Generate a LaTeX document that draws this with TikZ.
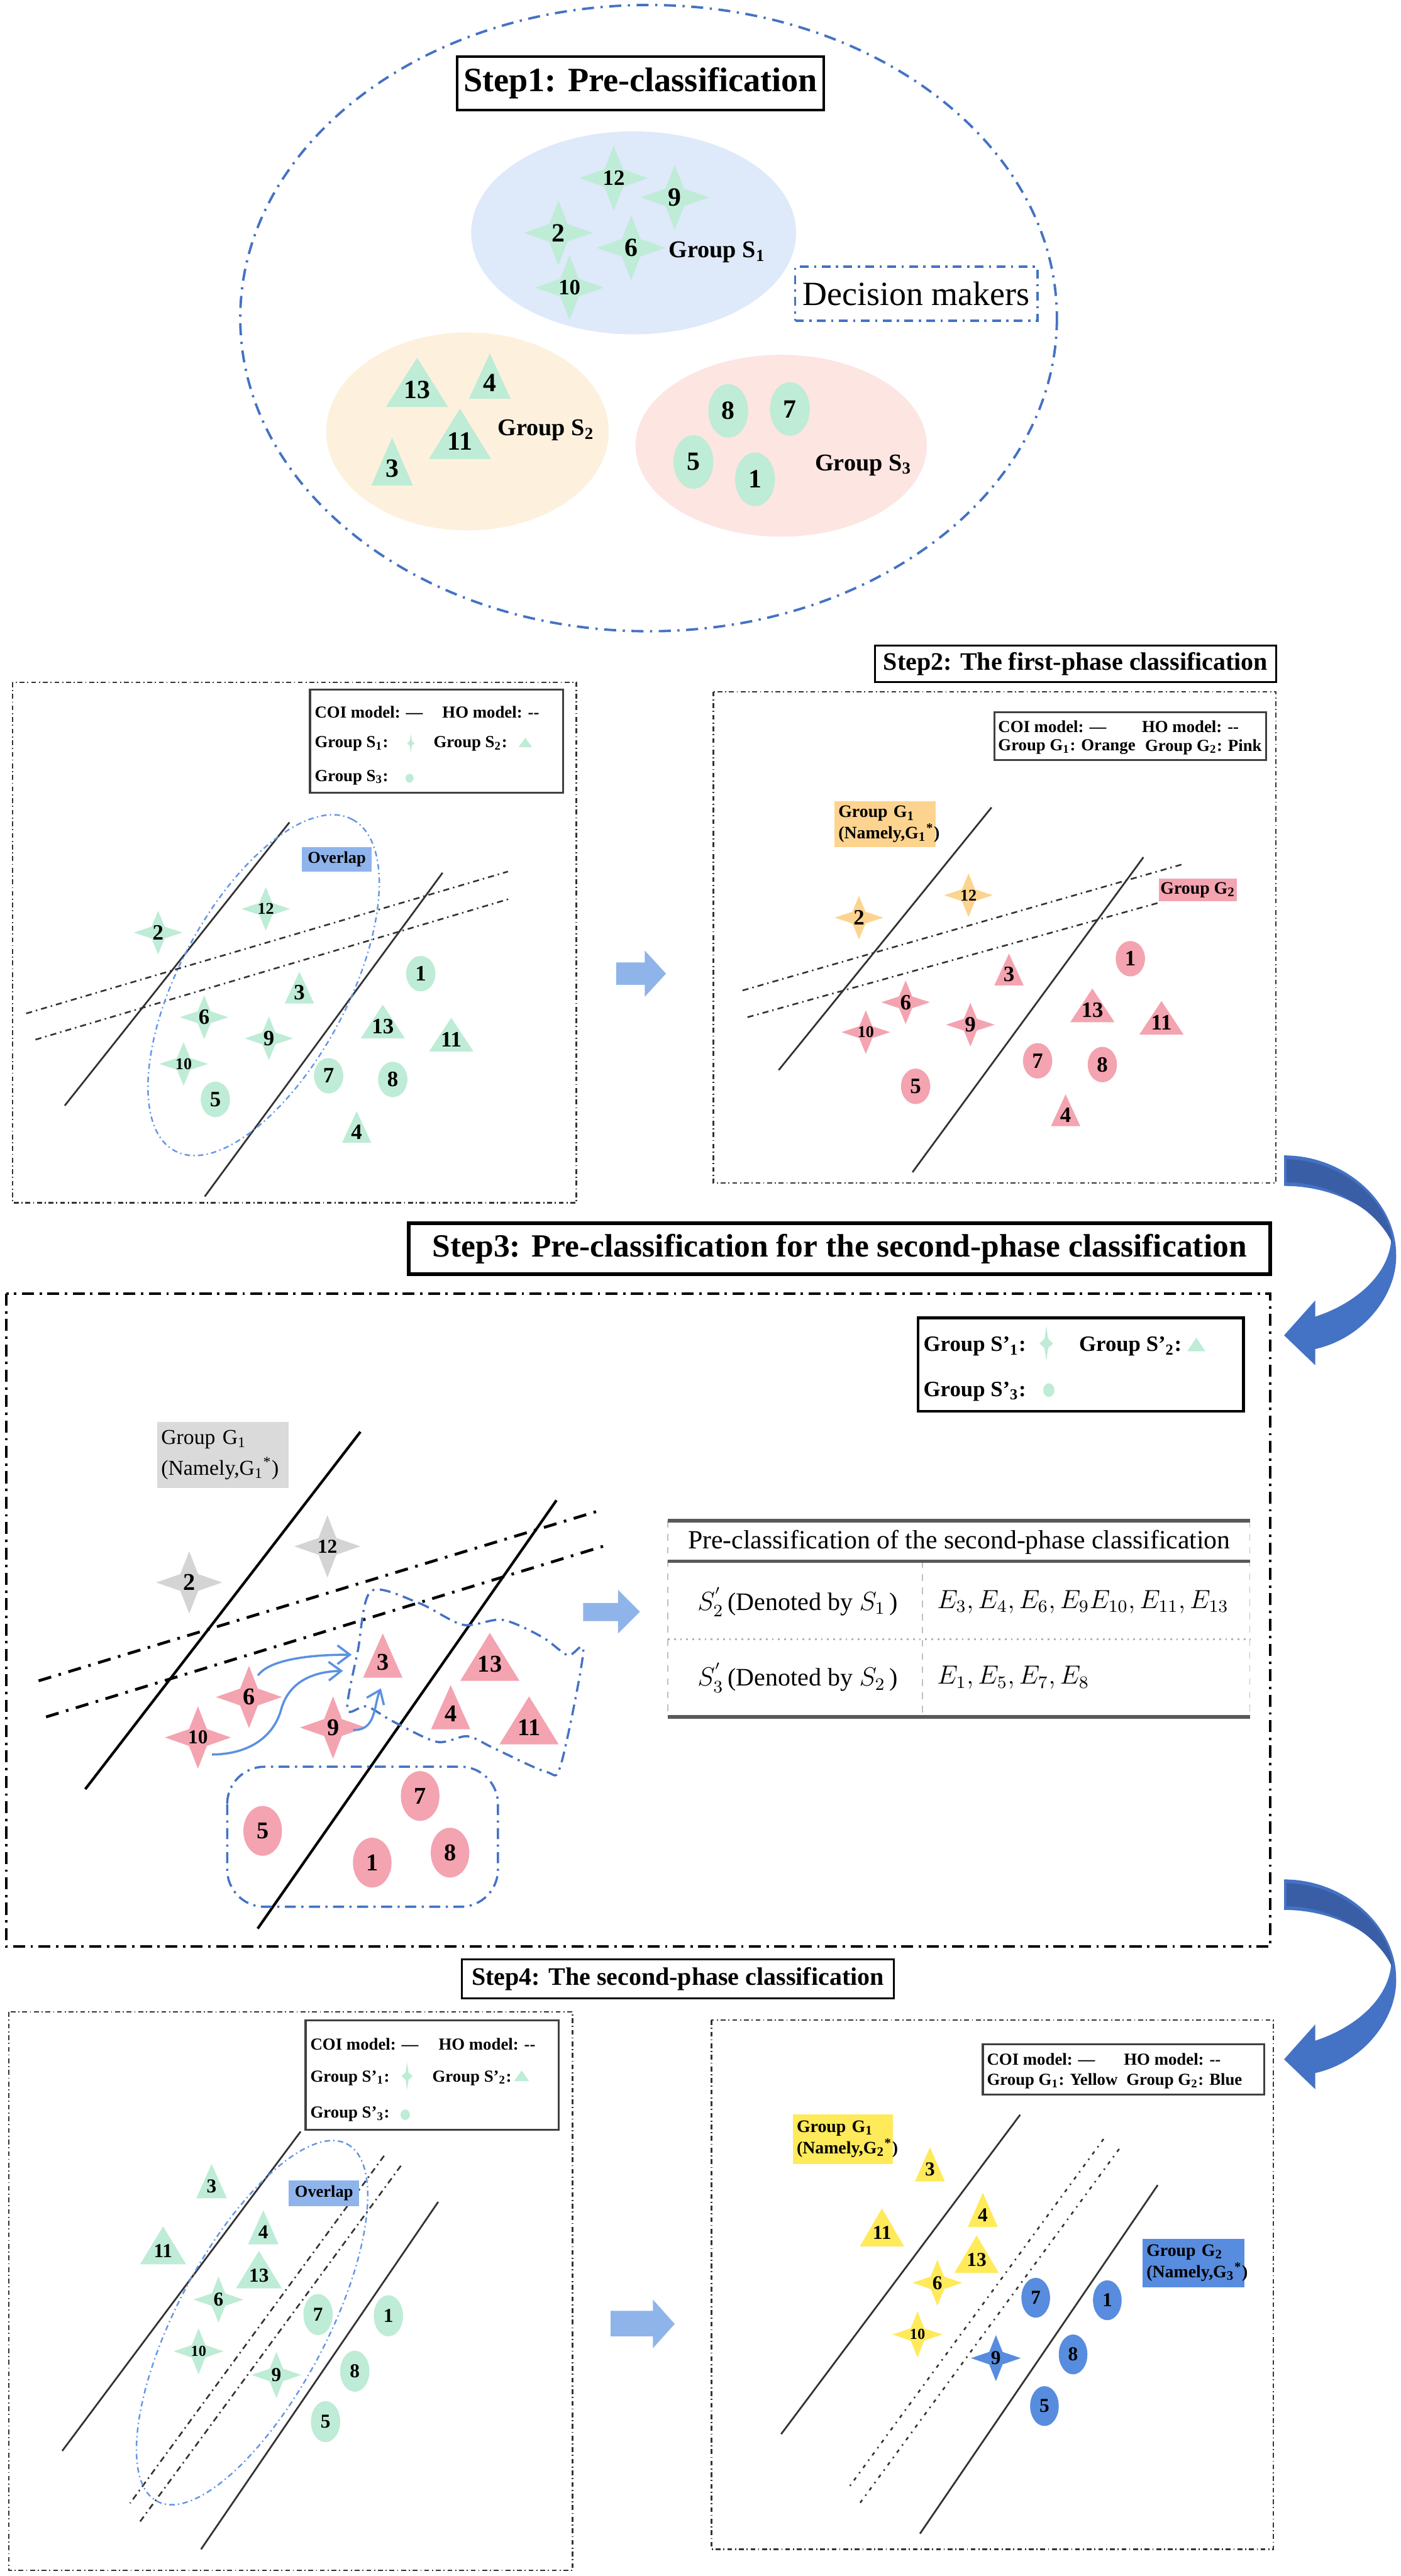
\documentclass[tikz,border=0pt]{standalone}
\usepackage{fontspec}
\setmainfont{Liberation Serif}
\usepackage{tikz}
\usetikzlibrary{arrows.meta}

\definecolor{mint}{RGB}{190,236,214}
\definecolor{pinkdm}{RGB}{244,163,176}
\definecolor{orangedm}{RGB}{253,212,143}
\definecolor{yellowdm}{RGB}{255,234,90}
\definecolor{bluedm}{RGB}{88,140,222}
\definecolor{graydm}{RGB}{212,212,212}
\definecolor{taggray}{RGB}{218,218,218}
\definecolor{skyfill}{RGB}{222,233,250}
\definecolor{sandfill}{RGB}{253,241,222}
\definecolor{rosefill}{RGB}{253,229,225}
\definecolor{frameblue}{RGB}{68,114,196}
\definecolor{arrowblue}{RGB}{143,180,234}
\definecolor{bendblue}{RGB}{68,114,196}
\definecolor{benddark}{RGB}{58,94,166}
\definecolor{linkblue}{RGB}{90,145,225}
\definecolor{skyline}{RGB}{100,150,230}
\definecolor{overlapfill}{RGB}{143,180,236}

\newcommand{\fsz}[1]{\fontsize{#1}{#1}\selectfont}
% decision maker marks
\newcommand{\fstar}[4]{\fill[#1] (#2) +(0,-#4) -- +(.27*#3,-.27*#4) -- +(#3,0) -- +(.27*#3,.27*#4) -- +(0,#4) -- +(-.27*#3,.27*#4) -- +(-#3,0) -- +(-.27*#3,-.27*#4) -- cycle;}
\newcommand{\ftri}[4]{\fill[#1] (#2) +(0,-.65*#4) -- +(.5*#3,.35*#4) -- +(-.5*#3,.35*#4) -- cycle;}
\newcommand{\fcirc}[4]{\fill[#1] (#2) ellipse [x radius=#3, y radius=#4];}

\tikzset{
  num/.style={inner sep=0pt, font=\bfseries\fsz{#1}},
  grouplab/.style={inner sep=0pt, font=\bfseries\fsz{11}},
  legtext/.style={anchor=west, inner sep=0pt, font=\bfseries\fsz{7.7}},
  legtextbig/.style={anchor=west, inner sep=0pt, font=\bfseries\fsz{10}},
  legbox/.style={draw=black!75, line width=.9pt},
  stepbox/.style={draw=black, inner sep=0pt, align=center},
  tagbox/.style={inner sep=.06cm, align=left},
  panelframe/.style={draw=black!80, line width=.7pt, dash pattern=on 2.2pt off 1.3pt on .5pt off 1.3pt},
  coi/.style={draw=black!80, line width=.8pt},
  ho/.style={draw=black!80, line width=.75pt, dash pattern=on 2.8pt off 1.8pt on .7pt off 1.8pt},
  overlapline/.style={draw=skyline, line width=.7pt, dash pattern=on 2.5pt off 1.5pt on .6pt off 1.5pt},
  regionline/.style={draw=frameblue, line width=1pt, dash pattern=on 5pt off 2.5pt on 1pt off 2.5pt},
  movearrow/.style={draw=linkblue, line width=1pt, -{Straight Barb[length=2mm,width=3mm]}},
  tabrule/.style={draw=black!65, line width=1.6pt},
  cellsep/.style={draw=black!25, line width=.4pt, dashed},
  overlaptag/.style={fill=overlapfill, inner sep=0pt, font=\bfseries\fsz{7.6}}
}

\begin{document}
\begin{tikzpicture}[x=1cm,y=-1cm]
\fill[white] (0,0) rectangle (22.5,41.38);
\useasboundingbox (0,0) rectangle (22.5,41.38);

% ---------- Step 1 ----------
\draw[line width=1.1pt, draw=frameblue, dash pattern=on 5.5pt off 3pt on 1pt off 3pt] (10.42,5.11) ellipse [x radius=6.56, y radius=5.03];
\node[stepbox, line width=1.3pt, minimum width=5.89cm, minimum height=.86cm, font=\bfseries\fsz{15.6}] (step1) at (10.29,1.34) {Step1: Pre-classification};
\fill[skyfill] (10.18,3.74) ellipse [x radius=2.61, y radius=1.63];
\fill[sandfill] (7.51,6.93) ellipse [x radius=2.27, y radius=1.59];
\fill[rosefill] (12.55,7.16) ellipse [x radius=2.34, y radius=1.46];
\foreach \n/\x/\y/\s in {12/9.86/2.86/10, 9/10.84/3.17/12, 2/8.97/3.74/12, 6/10.14/3.98/12, 10/9.15/4.62/10}{
\fstar{mint}{\x,\y}{.55}{.52}
\node[num=\s] (pre\n) at (\x,\y) {\n};
}
\foreach \n/\x/\y/\w/\h in {13/6.70/6.26/1.0/.79, 4/7.87/6.15/.67/.73, 11/7.39/7.09/1.0/.81, 3/6.30/7.53/.67/.77}{
\ftri{mint}{\x,\y}{\w}{\h}
\node[num=12] (pre\n) at (\x,\y) {\n};
}
\foreach \n/\x/\y in {8/11.70/6.60, 7/12.69/6.57, 5/11.14/7.42, 1/12.13/7.70}{
\fcirc{mint}{\x,\y}{.32}{.43}
\node[num=12] (pre\n) at (\x,\y) {\n};
}
\node[grouplab] (preS1) at (11.52,4.05) {Group S\textsubscript{1}};
\node[grouplab] (preS2) at (8.77,6.91) {Group S\textsubscript{2}};
\node[grouplab] (preS3) at (13.87,7.47) {Group S\textsubscript{3}};
\node[draw=frameblue, line width=1.1pt, dash pattern=on 4pt off 2.5pt on 1pt off 2.5pt, minimum width=3.89cm, minimum height=.87cm, inner sep=0pt, font=\fsz{15.5}] (dm) at (14.72,4.72) {Decision makers};

% ---------- Step 2, left ----------
\draw[panelframe] (0.20,10.96) rectangle (9.26,19.32);
\draw[legbox] (4.98,11.08) rectangle (9.05,12.73);
\node[legtext] (faCOI) at (5.05,11.44) {COI model: ---};
\node[legtext] (faHO) at (7.10,11.44) {HO model: -{}-};
\node[legtext] (faS1) at (5.05,11.95) {Group S\textsubscript{1}:};
\fstar{mint}{6.60,11.94}{.06}{.15}
\node[legtext] (faS2) at (6.96,11.95) {Group S\textsubscript{2}:};
\ftri{mint}{8.44,11.95}{.22}{.15}
\node[legtext] (faS3) at (5.05,12.49) {Group S\textsubscript{3}:};
\fcirc{mint}{6.58,12.50}{.065}{.07}
\draw[coi] (4.65,13.21) -- (1.04,17.76);
\draw[coi] (7.11,14.02) -- (3.29,19.22);
\draw[ho] (0.42,16.28) -- (8.16,14.00);
\draw[ho] (0.57,16.70) -- (8.18,14.44);
\draw[overlapline, rotate around={61.8:(4.235,15.825)}] (4.235,15.825) ellipse [x radius=3.02, y radius=1.35];
\node[overlaptag, minimum width=1.12cm, minimum height=.39cm] (faover) at (5.41,13.805) {Overlap};
\foreach \n/\x/\y/\s in {2/2.54/14.98/10, 12/4.27/14.60/7.5, 6/3.28/16.34/10, 9/4.32/16.68/10, 10/2.95/17.09/7.5}{
\fstar{mint}{\x,\y}{.39}{.35}
\node[num=\s] (fa\n) at (\x,\y) {\n};
}
\foreach \n/\x/\y/\w/\h in {3/4.81/15.94/.47/.51, 13/6.15/16.49/.71/.54, 11/7.25/16.70/.71/.54, 4/5.73/18.18/.47/.51}{
\ftri{mint}{\x,\y}{\w}{\h}
\node[num=10] (fa\n) at (\x,\y) {\n};
}
\foreach \n/\x/\y in {1/6.76/15.64, 7/5.28/17.28, 8/6.31/17.34, 5/3.46/17.66}{
\fcirc{mint}{\x,\y}{.235}{.285}
\node[num=10] (fa\n) at (\x,\y) {\n};
}
\fill[arrowblue] (9.90,15.46) -- (10.36,15.46) -- (10.36,15.27) -- (10.70,15.64) -- (10.36,16.01) -- (10.36,15.82) -- (9.90,15.82) -- cycle;

% ---------- Step 2, right ----------
\node[stepbox, line width=.9pt, minimum width=6.44cm, minimum height=.59cm, font=\bfseries\fsz{11.5}] (step2) at (17.28,10.665) {Step2: The first-phase classification};
\draw[panelframe] (11.46,11.11) rectangle (20.50,19.00);
\draw[legbox] (15.98,11.44) rectangle (20.34,12.21);
\node[legtext] (fbCOI) at (16.03,11.67) {COI model: ---};
\node[legtext] (fbHO) at (18.34,11.67) {HO model: -{}-};
\node[legtext] (fbG1) at (16.03,12.00) {Group G\textsubscript{1}: Orange};
\node[legtext] (fbG2) at (18.39,12.00) {Group G\textsubscript{2}: Pink};
\draw[coi] (15.93,12.97) -- (12.51,17.19);
\draw[coi] (18.37,13.77) -- (14.66,18.83);
\draw[ho] (11.93,15.91) -- (19.01,13.88);
\draw[ho] (12.01,16.34) -- (18.62,14.50);
\node[tagbox, fill=orangedm, text width=1.50cm, minimum height=.74cm, font=\bfseries\fontsize{8}{9.7}\selectfont] (fbtag1) at (14.22,13.24) {Group G\textsubscript{1}\\(Namely,G\textsubscript{1}\textsuperscript{*})};
\node[fill=pinkdm, minimum width=1.25cm, minimum height=.37cm, inner sep=0pt, font=\bfseries\fsz{8}] (fbtag2) at (19.245,14.295) {Group G\textsubscript{2}};
\foreach \n/\x/\y/\s in {2/13.80/14.74/10, 12/15.56/14.38/7.5}{
\fstar{orangedm}{\x,\y}{.39}{.35}
\node[num=\s] (fb\n) at (\x,\y) {\n};
}
\foreach \n/\x/\y/\s in {6/14.55/16.10/10, 9/15.59/16.46/10, 10/13.91/16.58/7.5}{
\fstar{pinkdm}{\x,\y}{.39}{.35}
\node[num=\s] (fb\n) at (\x,\y) {\n};
}
\foreach \n/\x/\y/\w/\h in {3/16.21/15.65/.47/.51, 13/17.55/16.23/.71/.54, 11/18.66/16.43/.71/.54, 4/17.12/17.91/.47/.51}{
\ftri{pinkdm}{\x,\y}{\w}{\h}
\node[num=10] (fb\n) at (\x,\y) {\n};
}
\foreach \n/\x/\y in {1/18.16/15.40, 7/16.67/17.04, 8/17.71/17.10, 5/14.71/17.45}{
\fcirc{pinkdm}{\x,\y}{.235}{.285}
\node[num=10] (fb\n) at (\x,\y) {\n};
}

% bent arrows on the right
\foreach \dy in {0,11.63}{
\begin{scope}[shift={(0,\dy)}]
\fill[bendblue] (20.63,18.56) .. controls (21.60,18.56) and (22.43,19.30) .. (22.43,20.15) .. controls (22.45,20.80) and (21.90,21.50) .. (21.13,21.67) -- (21.13,21.93) -- (20.63,21.45) -- (21.13,20.89) -- (21.13,21.15) .. controls (21.75,20.95) and (22.30,20.50) .. (22.35,19.93) .. controls (22.20,19.50) and (21.50,19.05) .. (20.63,19.05) -- cycle;
\fill[benddark] (20.67,18.62) .. controls (21.60,18.64) and (22.34,19.32) .. (22.37,19.98) .. controls (22.18,19.52) and (21.50,19.00) .. (20.67,18.99) -- cycle;
\end{scope}
}

% ---------- Step 3 ----------
\node[stepbox, line width=1.8pt, minimum width=13.84cm, minimum height=.82cm, font=\bfseries\fsz{14.8}] (step3) at (13.49,20.06) {Step3: Pre-classification for the second-phase classification};
\draw[draw=black, line width=1.1pt, dash pattern=on 5.5pt off 2.5pt on 1.1pt off 2.5pt] (0.10,20.78) rectangle (20.41,31.27);
\draw[line width=1.3pt] (14.75,21.17) rectangle (19.98,22.67);
\node[legtextbig] (spS1) at (14.83,21.63) {Group S'\textsubscript{1}:};
\fstar{mint}{16.81,21.58}{.11}{.28}
\node[legtextbig] (spS2) at (17.33,21.63) {Group S'\textsubscript{2}:};
\ftri{mint}{19.22,21.63}{.29}{.22}
\node[legtextbig] (spS3) at (14.83,22.35) {Group S'\textsubscript{3}:};
\fcirc{mint}{16.85,22.33}{.09}{.11}
\node[tagbox, fill=taggray, text width=1.99cm, minimum height=1.06cm, font=\fontsize{9.7}{14}\selectfont] (sptag) at (3.585,23.37) {Group G\textsubscript{1}\\(Namely,G\textsubscript{1}\textsuperscript{*})};
\draw[draw=black, line width=1.2pt] (5.79,23.00) -- (1.37,28.74);
\draw[draw=black, line width=1.2pt] (8.94,24.10) -- (4.14,30.98);
\draw[draw=black, line width=1.3pt, dash pattern=on 6pt off 3.5pt on 1.2pt off 3.5pt] (0.62,27.00) -- (9.65,24.26);
\draw[draw=black, line width=1.3pt, dash pattern=on 6pt off 3.5pt on 1.2pt off 3.5pt] (0.74,27.58) -- (9.75,24.82);
\draw[regionline] plot[smooth cycle, tension=.5] coordinates {(5.96,25.56) (6.73,25.75) (7.44,26.10) (8.07,26.02) (8.70,26.29) (9.12,26.59) (9.37,26.54) (9.01,28.35) (8.77,28.46) (7.93,28.08) (7.51,27.89) (7.02,27.98) (6.31,27.65) (5.89,27.41) (5.58,27.46) (5.75,26.51)};
\draw[regionline, rounded corners=.6cm] (3.65,28.38) rectangle (8.00,30.63);
\foreach \n/\x/\y/\s in {2/3.04/25.42/11, 12/5.26/24.84/9}{
\fstar{graydm}{\x,\y}{.53}{.50}
\node[num=\s] (sp\n) at (\x,\y) {\n};
}
\foreach \n/\x/\y/\s in {6/4.00/27.26/11, 10/3.18/27.91/9, 9/5.35/27.75/11}{
\fstar{pinkdm}{\x,\y}{.53}{.50}
\node[num=\s] (sp\n) at (\x,\y) {\n};
}
\foreach \n/\x/\y/\w/\h in {3/6.15/26.70/.63/.71, 13/7.87/26.73/.95/.77, 4/7.24/27.53/.63/.71, 11/8.50/27.75/.95/.77}{
\ftri{pinkdm}{\x,\y}{\w}{\h}
\node[num=11] (sp\n) at (\x,\y) {\n};
}
\foreach \n/\x/\y in {7/6.75/28.85, 5/4.22/29.41, 1/5.98/29.92, 8/7.23/29.76}{
\fcirc{pinkdm}{\x,\y}{.31}{.40}
\node[num=11] (sp\n) at (\x,\y) {\n};
}
\coordinate (in6) at (5.65,26.58);
\coordinate (in10) at (5.51,26.84);
\coordinate (in9) at (6.12,27.12);
\draw[movearrow] ([xshift=.4mm,yshift=2.1mm]sp6.north east) .. controls (4.30,26.70) and (4.80,26.58) .. (in6);
\draw[movearrow] ([xshift=.6mm,yshift=-1.6mm]sp10.south east) .. controls (4.00,28.18) and (4.40,27.90) .. (4.52,27.45) .. controls (4.65,27.00) and (5.05,26.85) .. (in10);
\draw[movearrow] ([xshift=2.2mm,yshift=-.4mm]sp9.east) .. controls (6.05,27.80) and (6.00,27.40) .. (in9);
\fill[arrowblue] (9.37,25.75) -- (9.93,25.75) -- (9.93,25.54) -- (10.28,25.89) -- (9.93,26.24) -- (9.93,26.04) -- (9.37,26.04) -- cycle;
% table
\draw[cellsep] (10.73,24.43) -- (10.73,27.58) (14.82,25.08) -- (14.82,27.58) (20.08,24.43) -- (20.08,27.58);
\draw[draw=black!30, line width=.8pt, dotted] (10.73,26.33) -- (20.08,26.33);
\draw[tabrule] (10.73,24.43) -- (20.08,24.43);
\draw[tabrule] (10.73,25.08) -- (20.08,25.08);
\draw[tabrule] (10.73,27.58) -- (20.08,27.58);
\node[inner sep=0pt, font=\fsz{12}] (tabhead) at (15.41,24.77) {Pre-classification of the second-phase classification};
\node[anchor=west, inner sep=0pt, font=\fsz{11.5}] (row1a) at (11.20,25.73) {$S_2^{'}$\,(Denoted by $S_1$\,)};
\node[anchor=west, inner sep=0pt, font=\fsz{11.5}] (row1b) at (15.05,25.73) {$E_3, E_4, E_6, E_9E_{10}, E_{11}, E_{13}$};
\node[anchor=west, inner sep=0pt, font=\fsz{11.5}] (row2a) at (11.20,26.95) {$S_3^{'}$\,(Denoted by $S_2$\,)};
\node[anchor=west, inner sep=0pt, font=\fsz{11.5}] (row2b) at (15.05,26.95) {$E_1, E_5, E_7, E_8$};

% ---------- Step 4, left ----------
\node[stepbox, line width=.9pt, minimum width=6.94cm, minimum height=.63cm, font=\bfseries\fsz{11.5}] (step4) at (10.89,31.785) {Step4: The second-phase classification};
\draw[panelframe] (0.14,32.32) rectangle (9.20,41.29);
\draw[legbox] (4.91,32.45) rectangle (8.98,34.21);
\node[legtext] (saCOI) at (4.98,32.84) {COI model: ---};
\node[legtext] (saHO) at (7.04,32.84) {HO model: -{}-};
\node[legtext] (saS1) at (4.98,33.38) {Group S'\textsubscript{1}:};
\fstar{mint}{6.54,33.35}{.09}{.22}
\node[legtext] (saS2) at (6.94,33.38) {Group S'\textsubscript{2}:};
\ftri{mint}{8.38,33.37}{.24}{.17}
\node[legtext] (saS3) at (4.98,33.96) {Group S'\textsubscript{3}:};
\fcirc{mint}{6.51,33.97}{.075}{.085}
\draw[coi] (4.83,34.24) -- (1.00,39.37);
\draw[coi] (7.04,35.37) -- (3.23,40.95);
\draw[ho] (6.17,34.63) -- (2.09,40.21);
\draw[ho] (6.44,34.79) -- (2.24,40.52);
\draw[overlapline, rotate around={62:(4.05,37.31)}] (4.05,37.31) ellipse [x radius=3.25, y radius=1.2];
\node[overlaptag, minimum width=1.13cm, minimum height=.42cm] (saover) at (5.205,35.23) {Overlap};
\foreach \n/\x/\y/\w/\h in {3/3.40/35.12/.49/.55, 11/2.62/36.16/.74/.61, 4/4.23/35.86/.49/.55, 13/4.16/36.55/.74/.60}{
\ftri{mint}{\x,\y}{\w}{\h}
\node[num=9] (sa\n) at (\x,\y) {\n};
}
\foreach \n/\x/\y/\s in {6/3.51/36.94/9, 10/3.19/37.77/7, 9/4.44/38.15/9}{
\fstar{mint}{\x,\y}{.40}{.37}
\node[num=\s] (sa\n) at (\x,\y) {\n};
}
\foreach \n/\x/\y in {7/5.11/37.18, 1/6.24/37.20, 8/5.70/38.09, 5/5.23/38.90}{
\fcirc{mint}{\x,\y}{.235}{.33}
\node[num=9] (sa\n) at (\x,\y) {\n};
}
\fill[arrowblue] (9.81,37.12) -- (10.49,37.12) -- (10.49,36.94) -- (10.84,37.33) -- (10.49,37.72) -- (10.49,37.53) -- (9.81,37.53) -- cycle;

% ---------- Step 4, right ----------
\draw[panelframe] (11.43,32.45) rectangle (20.46,40.95);
\draw[legbox] (15.79,32.84) rectangle (20.31,33.65);
\node[legtext] (sbCOI) at (15.85,33.08) {COI model: ---};
\node[legtext] (sbHO) at (18.05,33.08) {HO model: -{}-};
\node[legtext] (sbG1) at (15.85,33.43) {Group G\textsubscript{1}: Yellow};
\node[legtext] (sbG2) at (18.09,33.43) {Group G\textsubscript{2}: Blue};
\draw[coi] (16.39,33.97) -- (12.55,39.10);
\draw[coi] (18.60,35.10) -- (14.78,40.70);
\draw[ho, dash pattern=on 1.6pt off 2.4pt on .7pt off 2.4pt] (17.73,34.36) -- (13.62,39.98);
\draw[ho, dash pattern=on 1.6pt off 2.4pt on .7pt off 2.4pt] (17.98,34.52) -- (13.80,40.23);
\node[tagbox, fill=yellowdm, text width=1.49cm, minimum height=.80cm, font=\bfseries\fontsize{8}{9.7}\selectfont] (sbtag1) at (13.545,34.36) {Group G\textsubscript{1}\\(Namely,G\textsubscript{2}\textsuperscript{*})};
\node[tagbox, fill=bluedm, text width=1.51cm, minimum height=.78cm, font=\bfseries\fontsize{8}{9.7}\selectfont] (sbtag2) at (19.175,36.35) {Group G\textsubscript{2}\\(Namely,G\textsubscript{3}\textsuperscript{*})};
\foreach \n/\x/\y/\w/\h in {3/14.94/34.85/.48/.55, 11/14.17/35.87/.71/.61, 4/15.79/35.58/.48/.55, 13/15.69/36.30/.71/.60}{
\ftri{yellowdm}{\x,\y}{\w}{\h}
\node[num=9] (sb\n) at (\x,\y) {\n};
}
\foreach \n/\x/\y/\s in {6/15.06/36.67/9, 10/14.74/37.50/7}{
\fstar{yellowdm}{\x,\y}{.40}{.37}
\node[num=\s] (sb\n) at (\x,\y) {\n};
}
\fstar{bluedm}{16.00,37.88}{.40}{.37}
\node[num=9] (sb9) at (16.00,37.88) {9};
\foreach \n/\x/\y in {7/16.64/36.91, 1/17.79/36.95, 8/17.24/37.82, 5/16.78/38.65}{
\fcirc{bluedm}{\x,\y}{.23}{.32}
\node[num=9] (sb\n) at (\x,\y) {\n};
}
\end{tikzpicture}
\end{document}
